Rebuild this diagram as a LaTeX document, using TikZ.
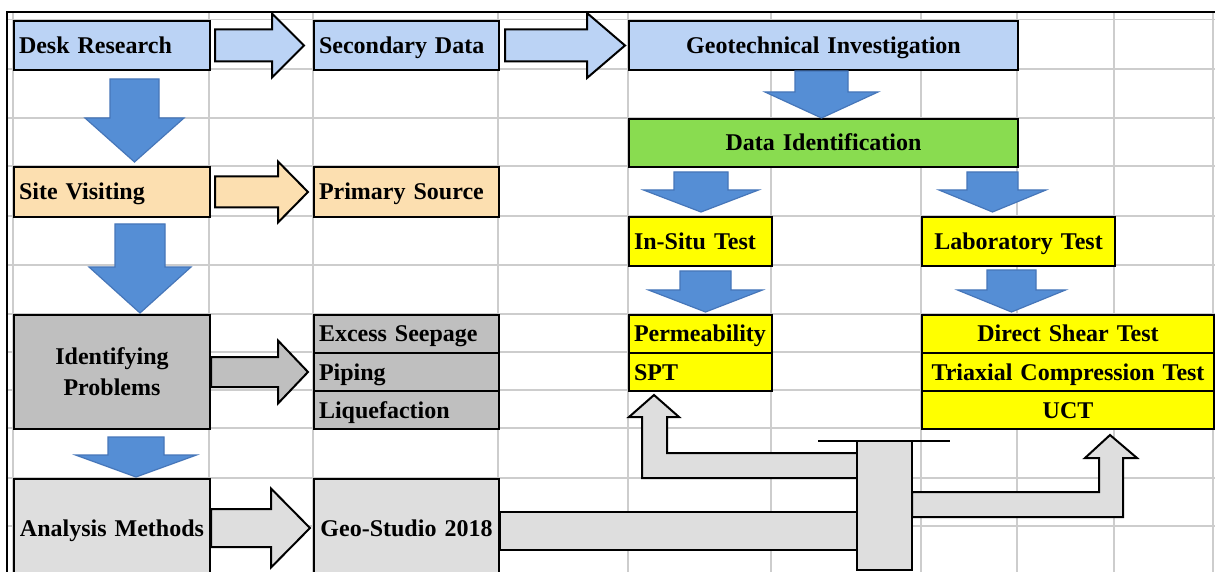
\documentclass[tikz,border=0pt]{standalone}
\usepackage{fontspec}
\setmainfont{Liberation Serif}
\usetikzlibrary{calc}
\definecolor{lblue}{RGB}{187,211,245}
\definecolor{peach}{RGB}{252,223,176}
\definecolor{lgreen}{RGB}{137,220,80}
\definecolor{ylw}{RGB}{255,255,0}
\definecolor{midgrey}{RGB}{191,191,191}
\definecolor{lgrey}{RGB}{222,222,222}
\definecolor{arrblue}{RGB}{85,142,213}
\definecolor{arrblueline}{RGB}{70,118,185}
\definecolor{gridc}{RGB}{205,205,205}
% right block arrow: #1 style, #2 from, #3 to, #4 start gap, #5 end gap, #6 head length, #7 shaft half, #8 head half (px)
\newcommand\rblock[8]{%
  \draw[#1] let \p1=(#2.east), \p2=(#3.west) in
    ({\x1+#4*0.5pt},{\y1+#7*0.5pt}) -- ({\x2-(#5+#6)*0.5pt},{\y1+#7*0.5pt})
    -- ({\x2-(#5+#6)*0.5pt},{\y1+#8*0.5pt}) -- ({\x2-#5*0.5pt},{\y1})
    -- ({\x2-(#5+#6)*0.5pt},{\y1-#8*0.5pt}) -- ({\x2-(#5+#6)*0.5pt},{\y1-#7*0.5pt})
    -- ({\x1+#4*0.5pt},{\y1-#7*0.5pt}) -- cycle;}
% down block arrow: #1 from, #2 to, #3 x centre px, #4 start gap, #5 end gap, #6 head length, #7 shaft half, #8 head half
\newcommand\dblock[8]{%
  \draw[downarrow] let \p1=(#1.south), \p2=(#2.north) in
    ({(#3-#7)*0.5pt},{\y1-#4*0.5pt}) -- ({(#3-#7)*0.5pt},{\y2+(#5+#6)*0.5pt})
    -- ({(#3-#8)*0.5pt},{\y2+(#5+#6)*0.5pt}) -- ({#3*0.5pt},{\y2+#5*0.5pt})
    -- ({(#3+#8)*0.5pt},{\y2+(#5+#6)*0.5pt}) -- ({(#3+#7)*0.5pt},{\y2+(#5+#6)*0.5pt})
    -- ({(#3+#7)*0.5pt},{\y1-#4*0.5pt}) -- cycle;}
\begin{document}
\begin{tikzpicture}[x=0.5pt,y=-0.5pt,
  box/.style={draw=black, line width=1pt, inner ysep=0pt, inner xsep=2.5pt,
    anchor=north west, font=\bfseries\fontsize{12pt}{15.5pt}\selectfont},
  oneline/.style={text height=8pt, text depth=0pt},
  gridline/.style={draw=gridc, line width=0.6pt},
  blockarrow/.style={draw=black, line width=1pt, line join=miter},
  downarrow/.style={draw=arrblueline, line width=0.6pt, fill=arrblue},
  garrow/.style={draw=black, line width=1pt, fill=lgrey}]
\useasboundingbox (0,0) rectangle (1215,572);
\clip (0,0) rectangle (1215,572);
\fill[white] (0,0) rectangle (1215,572);
% spreadsheet grid
\foreach \gx in {13,209,313,498,628,771,921,1017,1114,1213}
  \draw[gridline] (\gx,12) -- (\gx,572);
\foreach \gy in {19.5,69,118,166,216,265,314,352,390,428,478,526}
  \draw[gridline] (7,\gy) -- (1215,\gy);
\draw[line width=1pt] (7,580) -- (7,12) -- (1220,12);
% boxes
\node[box,oneline,fill=lblue,minimum width=98pt,minimum height=24.5pt,text width=93pt,align=left] (desk) at (13,20) {Desk Research};
\node[box,oneline,fill=lblue,minimum width=92.5pt,minimum height=24.5pt,text width=87.5pt,align=left] (secdata) at (313,20) {Secondary Data};
\node[box,oneline,fill=lblue,minimum width=194.5pt,minimum height=24.5pt,text width=189.5pt,align=center] (geo) at (628,20) {Geotechnical Investigation};
\node[box,oneline,fill=lgreen,minimum width=194.5pt,minimum height=24pt,text width=189.5pt,align=center] (dataid) at (628,118) {Data Identification};
\node[box,oneline,fill=peach,minimum width=98pt,minimum height=25pt,text width=93pt,align=left] (site) at (13,166) {Site Visiting};
\node[box,oneline,fill=peach,minimum width=92.5pt,minimum height=25pt,text width=87.5pt,align=left] (primary) at (313,166) {Primary Source};
\node[box,oneline,fill=ylw,minimum width=71.5pt,minimum height=24.5pt,text width=66.5pt,align=left] (insitu) at (628,216) {In-Situ Test};
\node[box,oneline,fill=ylw,minimum width=96.5pt,minimum height=24.5pt,text width=91.5pt,align=center] (lab) at (921,216) {Laboratory Test};
\node[box,fill=midgrey,minimum width=98pt,minimum height=57pt,text width=93pt,align=center] (ident) at (13,314) {Identifying\\Problems};
\node[box,oneline,fill=midgrey,minimum width=92.5pt,minimum height=19pt,text width=87.5pt,align=left] (seep) at (313,314) {Excess Seepage};
\node[box,oneline,fill=midgrey,minimum width=92.5pt,minimum height=19pt,text width=87.5pt,align=left] (piping) at (313,352) {Piping};
\node[box,oneline,fill=midgrey,minimum width=92.5pt,minimum height=19pt,text width=87.5pt,align=left] (liq) at (313,390) {Liquefaction};
\node[box,oneline,fill=ylw,minimum width=71.5pt,minimum height=19pt,text width=66.5pt,align=left] (perm) at (628,314) {Permeability};
\node[box,oneline,fill=ylw,minimum width=71.5pt,minimum height=19pt,text width=66.5pt,align=left] (spt) at (628,352) {SPT};
\node[box,oneline,fill=ylw,minimum width=146pt,minimum height=19pt,text width=141pt,align=center] (dst) at (921,314) {Direct Shear Test};
\node[box,oneline,fill=ylw,minimum width=146pt,minimum height=19pt,text width=141pt,align=center] (tri) at (921,352) {Triaxial Compression Test};
\node[box,oneline,fill=ylw,minimum width=146pt,minimum height=19pt,text width=141pt,align=center] (uct) at (921,390) {UCT};
\node[box,oneline,fill=lgrey,minimum width=98pt,minimum height=49pt,text width=93pt,align=center] (analysis) at (13,478) {Analysis Methods};
\node[box,oneline,fill=lgrey,minimum width=92.5pt,minimum height=49pt,text width=87.5pt,align=center] (geostudio) at (313,478) {Geo-Studio 2018};
% horizontal block arrows
\rblock{blockarrow,fill=lblue}{desk}{secdata}{4}{9}{32}{16}{32}
\rblock{blockarrow,fill=lblue}{secdata}{geo}{5}{3}{38}{16}{32.5}
\rblock{blockarrow,fill=peach}{site}{primary}{4}{5}{30}{15.5}{30.5}
\rblock{blockarrow,fill=midgrey}{ident}{piping}{0}{5}{30}{15}{31.5}
\rblock{blockarrow,fill=lgrey}{analysis}{geostudio}{0}{3}{39}{19}{39.5}
% downward blue arrows
\dblock{desk}{site}{134.5}{8}{4}{44}{24.5}{49.5}
\dblock{site}{ident}{140}{6}{1}{46}{25}{51}
\dblock{ident}{analysis}{136}{7}{1}{22}{28}{60.5}
\dblock{geo}{dataid}{821.5}{0}{0}{26}{26.5}{56.5}
\dblock{dataid}{insitu}{701}{4}{4}{22}{27}{57.5}
\dblock{dataid}{lab}{992.5}{4}{4}{22}{25.5}{53.5}
\dblock{insitu}{perm}{705.5}{4}{2}{22}{25.5}{57}
\dblock{lab}{dst}{1011.5}{3}{2}{22}{24.5}{54}
% branching arrow from Geo-Studio
\coordinate (sptTip) at ($(spt.south west)+(26,3)$);
\coordinate (uctTip) at ($(uct.south west)+(189,5)$);
\coordinate (hubTL) at (857,441);
\coordinate (hubBR) at (912,570);
\draw[garrow] ($(geostudio.north east)+(0,34)$) rectangle (hubTL |- 0,550);
\draw[garrow] (hubTL |- 0,453) -- (667,453) -- (667,417) -- (679,417) -- (sptTip)
  -- (629,417) -- (642,417) -- (642,478) -- (hubTL |- 0,478) -- cycle;
\draw[garrow] (hubBR |- 0,492) -- (1099,492) -- (1099,458) -- (1085,458) -- (uctTip)
  -- (1137,458) -- (1123,458) -- (1123,517) -- (hubBR |- 0,517) -- cycle;
\draw[garrow] (hubTL) rectangle (hubBR);
\draw[line width=1pt] ($(hubTL)+(-39,0)$) -- ($(hubTL)+(93,0)$);
\end{tikzpicture}
\end{document}
